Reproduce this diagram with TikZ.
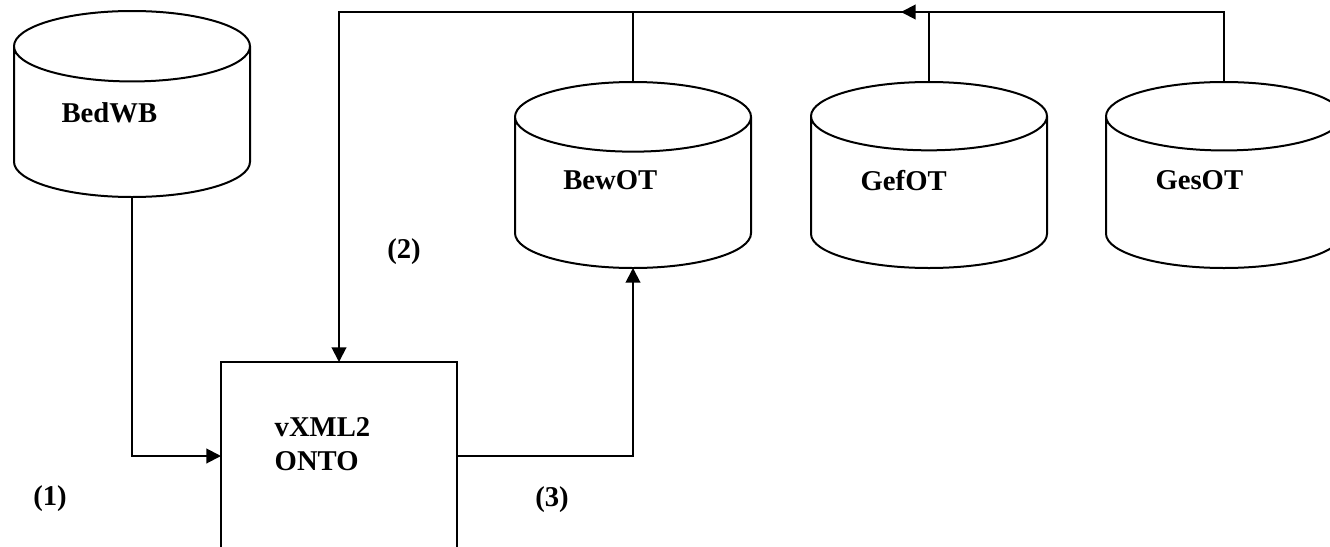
\documentclass[tikz,border=0pt]{standalone}
\usepackage{fontspec}
\setmainfont{Liberation Serif}
\usetikzlibrary{shapes.geometric,arrows.meta}

\begin{document}
\begin{tikzpicture}[x=0.75pt,y=-0.75pt]
\tikzstyle{every node}=[font=\bfseries\fontsize{21.5}{26}\selectfont];
\tikzstyle{db}=[draw,shape=cylinder,shape border rotate=90,aspect=0.5,minimum width=177pt,minimum height=139.5pt,inner sep=0pt,outer sep=0pt,line width=1.5pt,anchor=shape center];
\tikzstyle{box}=[draw,shape=rectangle,minimum width=177pt,minimum height=141pt,line width=1.5pt,outer sep=0pt];
\tikzstyle{arr}=[line width=1.5pt,-{Triangle[length=11pt,width=11pt]}];
\tikzstyle{line}=[line width=1.5pt];
\useasboundingbox (0,0) rectangle (1330,546);
\clip (0,0) rectangle (1330,546);
\coordinate (bus) at (0,12);
\node[db] (bedwb) at (132,104) {\raisebox{15pt}{BedWB}\hspace*{34pt}};
\node[db] (bewot) at (633,175) {\raisebox{19pt}{BewOT}\hspace*{34pt}};
\node[db] (gefot) at (929,175) {\raisebox{19pt}{GefOT}\hspace*{38pt}};
\node[db] (gesot) at (1224,175) {\raisebox{19pt}{GesOT}\hspace*{37pt}};
\node[box] (conv) at (339,456) {};
\node[anchor=west,align=left] (convlbl) at (270,444) {vXML2\\ONTO};
\node (l1) at (50,499) {(1)};
\node (l2) at (404,252) {(2)};
\node (l3) at (552,500) {(3)};
\draw[arr] (bedwb.south) |- (conv.west);
\draw[arr] (conv.east) -| (bewot.south);
\draw[arr] (gesot.north) |- (conv.north |- bus) -- (conv.north);
\draw[line] (gefot.north) -- (gefot.north |- bus);
\draw[line] (bewot.north) -- (bewot.north |- bus);
\draw[arr] (gefot.north |- bus) -- ++(-28,0);
\end{tikzpicture}
\end{document}
